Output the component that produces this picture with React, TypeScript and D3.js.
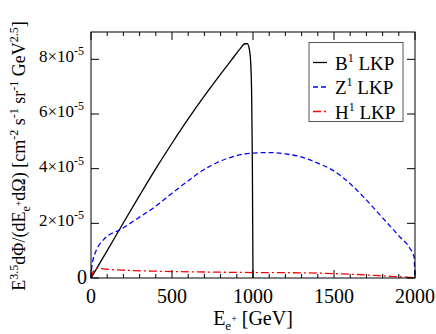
import React from "react";
import * as d3 from "d3";

// energies in GeV, fluxes in units of 1e-5
const b1Energy = [0, 100, 200, 300, 400, 500, 600, 700, 800, 870, 920, 950, 965, 978, 986, 992, 996, 1000];
const b1Flux = [0, 1.0, 2.02, 3.02, 4.0, 4.93, 5.82, 6.66, 7.46, 8.0, 8.38, 8.57, 8.57, 8.35, 7.85, 6.6, 4.2, 0];

const z1Energy = [0, 4, 12, 25, 43, 70, 94, 181, 280, 393, 500, 599, 693, 800, 900, 1000, 1105, 1200, 1290, 1400, 1496, 1600, 1702, 1800, 1907, 1969, 1994, 2000];
const z1Flux = [0, 0.35, 0.65, 0.9, 1.14, 1.35, 1.5, 1.77, 2.15, 2.6, 3.1, 3.55, 3.95, 4.28, 4.48, 4.57, 4.59, 4.54, 4.44, 4.2, 3.93, 3.45, 2.84, 2.2, 1.5, 1.08, 0.77, 0];

const h1Energy = [0, 15, 33, 100, 187, 393, 700, 1000, 1290, 1500, 1702, 1850, 1950, 2000];
const h1Flux = [0, 0.25, 0.35, 0.32, 0.29, 0.25, 0.22, 0.2, 0.19, 0.16, 0.11, 0.06, 0.03, 0];

const xTicks = [0, 500, 1000, 1500, 2000];
const yTicks = [0, 2, 4, 6, 8];
const seriesNames = ["B", "Z", "H"];

const W = 436;
const H = 334;
const margin = { top: 32, right: 21, bottom: 56, left: 91 };

const serif = "Liberation Serif, DejaVu Serif, serif";

export default function App() {
  const x = d3.scaleLinear().domain([0, 2000]).range([margin.left, W - margin.right]);
  const y = d3.scaleLinear().domain([0, 9]).range([H - margin.bottom, margin.top]);

  const line = d3
    .line<[number, number]>()
    .x((d) => x(d[0]))
    .y((d) => y(d[1]))
    .curve(d3.curveMonotoneX);

  const zip = (a: number[], b: number[]) => a.map((v, i) => [v, b[i]] as [number, number]);

  const series = [
    { name: seriesNames[0], pts: zip(b1Energy, b1Flux), color: "#000000", dash: "none" },
    { name: seriesNames[1], pts: zip(z1Energy, z1Flux), color: "#0000ff", dash: "5,3" },
    { name: seriesNames[2], pts: zip(h1Energy, h1Flux), color: "#ff0000", dash: "8,3,2,3" },
  ];

  const x0 = x(0), x1 = x(2000), yb = y(0), yt = y(9);
  const minorX = d3.range(0, 2001, 100);

  return (
    <svg
      width={W}
      height={H}
      style={{ position: "absolute", left: 0, top: 0, background: "#fff" }}
    >
      {/* curves */}
      {series.map((s) => (
        <path
          key={s.name}
          d={line(s.pts) || ""}
          fill="none"
          stroke={s.color}
          strokeWidth={1.3}
          strokeDasharray={s.dash}
        />
      ))}

      {/* frame */}
      <rect x={x0} y={yt} width={x1 - x0} height={yb - yt} fill="none" stroke="#000" strokeWidth={1} />

      {/* x ticks bottom and top */}
      {minorX.map((v) => {
        const len = v % 500 === 0 ? 8 : 4;
        return (
          <g key={"xt" + v} stroke="#000" strokeWidth={1}>
            <line x1={x(v)} x2={x(v)} y1={yb} y2={yb - len} />
            <line x1={x(v)} x2={x(v)} y1={yt} y2={yt + len} />
          </g>
        );
      })}

      {/* y ticks left and right */}
      {yTicks.map((v) => (
        <g key={"yt" + v} stroke="#000" strokeWidth={1}>
          <line x1={x0} x2={x0 + 8} y1={y(v)} y2={y(v)} />
          <line x1={x1} x2={x1 - 8} y1={y(v)} y2={y(v)} />
        </g>
      ))}

      <g fontFamily={serif} fill="#000">
        {/* x tick labels */}
        {xTicks.map((v) => (
          <text key={"xl" + v} x={x(v)} y={yb + 25} fontSize={20} textAnchor="middle">
            {v}
          </text>
        ))}

        {/* y tick labels */}
        {yTicks.map((v) =>
          v === 0 ? (
            <text key={"yl" + v} x={87} y={y(v) + 6} fontSize={20} textAnchor="end">
              0
            </text>
          ) : (
            <text key={"yl" + v} x={84} y={y(v) + 3} fontSize={17} textAnchor="end">
              {v}×10
              <tspan fontSize={12} dy={-7}>-5</tspan>
            </text>
          )
        )}

        {/* x axis title */}
        <text x={(x0 + x1) / 2} y={325} fontSize={20} textAnchor="middle">
          E
          <tspan fontSize={13} dy={5}>e</tspan>
          <tspan fontSize={10} dy={-8}>+</tspan>
          <tspan dy={3}> [GeV]</tspan>
        </text>

        {/* y axis title */}
        <text transform={`translate(25,${(yb + yt) / 2 + 1}) rotate(-90)`} fontSize={18} textAnchor="middle">
          E
          <tspan fontSize={12} dy={-7}>3.5</tspan>
          <tspan dy={7}>dΦ/(dE</tspan>
          <tspan fontSize={12} dy={5}>e</tspan>
          <tspan fontSize={10} dy={-8}>+</tspan>
          <tspan dy={3}>dΩ) [cm</tspan>
          <tspan fontSize={12} dy={-7}>-2</tspan>
          <tspan dy={7}> s</tspan>
          <tspan fontSize={12} dy={-7}>-1</tspan>
          <tspan dy={7}> sr</tspan>
          <tspan fontSize={12} dy={-7}>-1</tspan>
          <tspan dy={7}> GeV</tspan>
          <tspan fontSize={12} dy={-7}>2.5</tspan>
          <tspan dy={7}>]</tspan>
        </text>
      </g>

      {/* legend */}
      <rect x={309} y={42.5} width={94} height={79} fill="#fff" stroke="#555" strokeWidth={1} />
      {series.map((s, i) => {
        const ly = 62.5 + i * 24.5;
        return (
          <g key={"lg" + s.name}>
            <line x1={313} x2={327} y1={ly} y2={ly} stroke={s.color} strokeWidth={1.3} strokeDasharray={s.dash} />
            <text x={335} y={ly + 7} fontSize={19} fill="#000" fontFamily={serif}>
              {s.name}
              <tspan fontSize={12} dy={-8}>1</tspan>
              <tspan dy={8}> LKP</tspan>
            </text>
          </g>
        );
      })}
    </svg>
  );
}
